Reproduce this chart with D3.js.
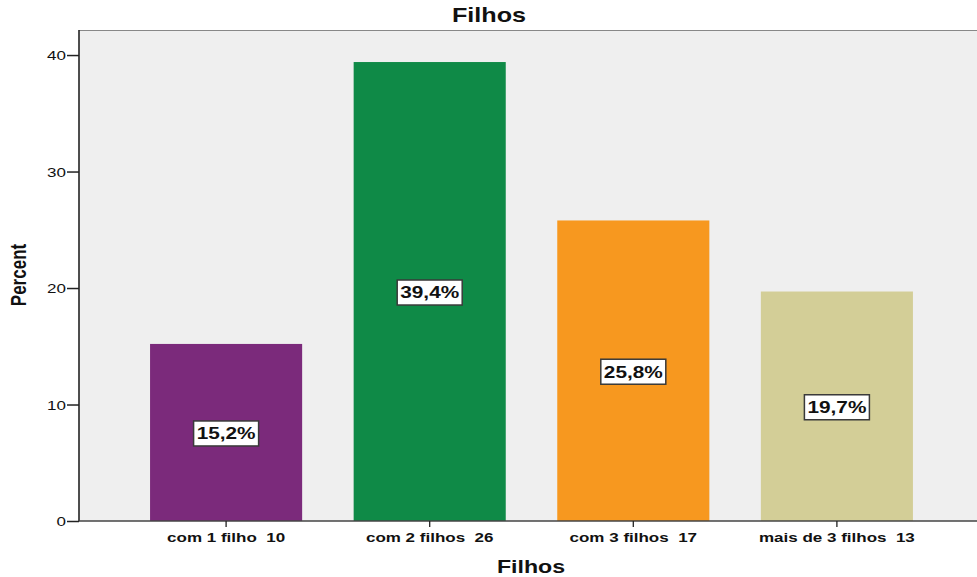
<!DOCTYPE html>
<html>
<head>
<meta charset="utf-8">
<script src="https://cdn.jsdelivr.net/npm/d3@7"></script>
<style>
  body { margin: 0; background: #fff; }
  svg { display: block; font-family: "Liberation Sans", Arial, sans-serif; }
</style>
</head>
<body>
<svg id="chart" width="977" height="577"></svg>
<script>
// Distribution of respondents by number of children
const categories = ["com 1 filho  10", "com 2 filhos  26", "com 3 filhos  17", "mais de 3 filhos  13"];
const percents = [15.2, 39.4, 25.8, 19.7];
const percentLabels = ["15,2%", "39,4%", "25,8%", "19,7%"];
const barColors = ["#7b2a7b", "#0f8a47", "#f7981f", "#d3ce97"];
const yTicks = [0, 10, 20, 30, 40];

const svg = d3.select("#chart");
const plotLeft = 79, plotTop = 30, plotBottom = 521, plotRight = 984;
const wide = 1.26; // horizontal stretch applied to all text

const x = d3.scaleBand()
  .domain(categories)
  .range([plotLeft, plotRight])
  .paddingInner(0.253)
  .paddingOuter(0.349);

const y = d3.scaleLinear().domain([0, 42.15]).range([plotBottom, plotTop]);

// plot background
svg.append("rect")
  .attr("x", plotLeft).attr("y", plotTop)
  .attr("width", 977 - plotLeft).attr("height", plotBottom - plotTop)
  .attr("fill", "#efefef");
svg.append("line")
  .attr("x1", plotLeft).attr("x2", 977).attr("y1", plotTop + 0.5).attr("y2", plotTop + 0.5)
  .attr("stroke", "#888").attr("stroke-width", 1.2);

// bars
svg.selectAll("rect.bar")
  .data(percents)
  .join("rect")
  .attr("class", "bar")
  .attr("x", (d, i) => x(categories[i]))
  .attr("y", d => y(d))
  .attr("width", x.bandwidth())
  .attr("height", d => y(0) - y(d))
  .attr("fill", (d, i) => barColors[i]);

// value labels in boxes
const lbl = svg.selectAll("g.lbl")
  .data(percents)
  .join("g")
  .attr("class", "lbl")
  .attr("transform", (d, i) => `translate(${x(categories[i]) + x.bandwidth() / 2},${y(d / 2) + 1})`);
lbl.append("rect")
  .attr("x", -32.5).attr("y", -12.5).attr("width", 65).attr("height", 25)
  .attr("fill", "#fff").attr("stroke", "#3a3a3a").attr("stroke-width", 1.5);
lbl.append("text")
  .attr("text-anchor", "middle").attr("dy", "0.36em")
  .attr("transform", `scale(${wide},1)`)
  .attr("font-size", 16.5).attr("font-weight", "bold").attr("fill", "#111")
  .text((d, i) => percentLabels[i]);

// y axis
const yAxis = svg.append("g")
  .attr("transform", `translate(${plotLeft},0)`)
  .call(d3.axisLeft(y).tickValues(yTicks).tickSize(12).tickPadding(0).tickFormat(d3.format("d")));
yAxis.select(".domain").attr("stroke", "#222").attr("stroke-width", 1.6).attr("d", `M0,${plotTop}V${plotBottom}`);
yAxis.selectAll(".tick line").attr("stroke", "#222").attr("stroke-width", 1.5);
yAxis.selectAll(".tick text")
  .attr("x", 0).attr("dy", "0.36em")
  .attr("transform", `translate(-13,0) scale(${wide},1)`)
  .attr("font-size", 13.5).attr("fill", "#111")
  .attr("font-family", "Liberation Sans, Arial, sans-serif");

// x axis
const xAxis = svg.append("g")
  .attr("transform", `translate(0,${plotBottom})`)
  .call(d3.axisBottom(x).tickSize(6).tickPadding(4));
xAxis.select(".domain").attr("stroke", "#444").attr("stroke-width", 1.6).attr("d", `M${plotLeft},0H977`);
xAxis.selectAll(".tick line").attr("stroke", "#222").attr("stroke-width", 1.3);
xAxis.selectAll(".tick text")
  .attr("y", 21).attr("dy", 0)
  .attr("transform", `scale(${wide},1)`)
  .attr("font-size", 13.5).attr("font-weight", "bold").attr("fill", "#111")
  .attr("font-family", "Liberation Sans, Arial, sans-serif").style("white-space", "pre");

// titles
svg.append("text")
  .attr("transform", `translate(489,22) scale(${wide},1)`)
  .attr("text-anchor", "middle")
  .attr("font-size", 20).attr("font-weight", "bold").attr("fill", "#111")
  .text("Filhos");
svg.append("text")
  .attr("transform", `translate(531,573) scale(1.22,1)`)
  .attr("text-anchor", "middle")
  .attr("font-size", 19).attr("font-weight", "bold").attr("fill", "#111")
  .text("Filhos");
svg.append("text")
  .attr("transform", `translate(26,275) scale(${wide},1) rotate(-90)`)
  .attr("text-anchor", "middle")
  .attr("font-size", 17).attr("font-weight", "bold").attr("fill", "#111")
  .text("Percent");
</script>
</body>
</html>
